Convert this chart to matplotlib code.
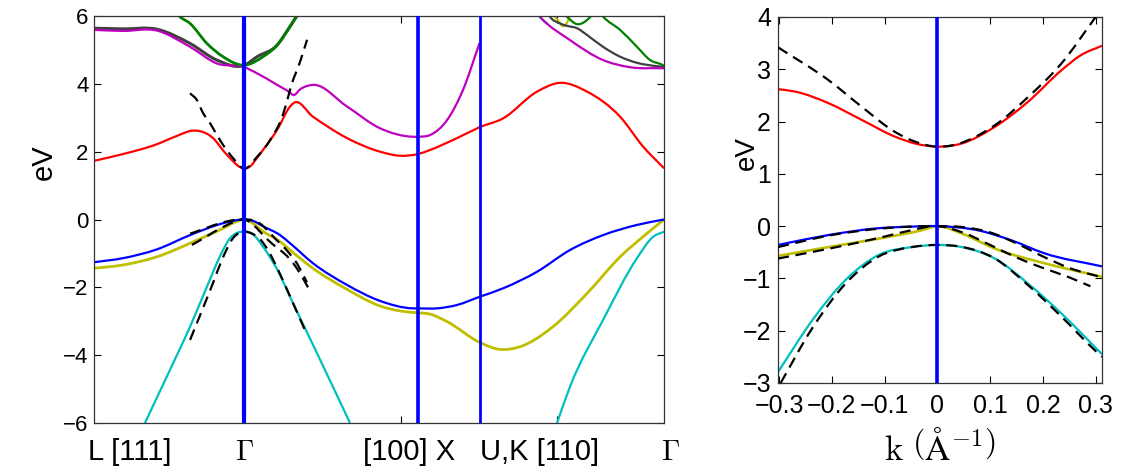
import numpy as np
import matplotlib
matplotlib.use('Agg')
import matplotlib.pyplot as plt
from matplotlib import transforms
from matplotlib.path import Path
from matplotlib.patches import PathPatch

plt.rcParams['font.family'] = ['Liberation Sans', 'DejaVu Sans']
plt.rcParams['mathtext.fontset'] = 'cm'

# colores tipo MATLAB
c_red = (1, 0, 0)
c_mag = (0.75, 0, 0.75)
c_grn = (0, 0.5, 0)
c_gry = (0.25, 0.25, 0.25)
c_blu = (0, 0, 1)
c_oli = (0.75, 0.75, 0)
c_cya = (0, 0.75, 0.75)

# puntos de simetria (k en 1/A)
k_path = [0.037, 1.0, 2.112, 2.505, 3.686]
path_labels = ['L [111]', r'$\Gamma$', '[100] X', 'U,K [110]', r'$\Gamma$']
label_pos = [0.267, 1.0, 2.054, 2.892, 3.725]

# ---- bandas completas (camino L-G-X-U,K-G) ----
red_k = [0.037, 0.223, 0.440, 0.56, 0.671, 0.72, 0.799, 0.870, 0.927, 0.96, 1.0, 1.04,
         1.081, 1.119, 1.209, 1.292, 1.317, 1.439, 1.657, 1.868, 1.996, 2.111, 2.188,
         2.361, 2.505, 2.655, 2.873, 3.020, 3.193, 3.405, 3.552, 3.686]
red_E = [1.73, 1.93, 2.22, 2.45, 2.62, 2.60, 2.40, 2.00, 1.72, 1.58, 1.50, 1.58,
         1.82, 2.05, 2.64, 3.33, 3.44, 3.03, 2.40, 2.00, 1.88, 1.93, 2.05,
         2.40, 2.72, 2.98, 3.77, 4.03, 3.77, 3.03, 2.15, 1.51]

mag1_k = [0.037, 0.223, 0.440, 0.652, 0.824, 1.0, 1.081, 1.209, 1.292, 1.311, 1.36,
          1.439, 1.657, 1.868, 2.079, 2.111, 2.188, 2.297, 2.399, 2.505]
mag1_E = [5.59, 5.56, 5.57, 5.09, 4.60, 4.49, 4.31, 3.97, 3.74, 3.67, 3.85,
          3.97, 3.33, 2.69, 2.44, 2.44, 2.49, 2.93, 3.82, 5.20]
mag2_k = [2.87, 2.892, 3.084, 3.296, 3.469, 3.686]
mag2_E = [6.10, 5.98, 5.29, 4.70, 4.49, 4.46]

gry1_k = [0.037, 0.223, 0.440, 0.652, 0.824, 1.0, 1.081, 1.209, 1.292, 1.337, 1.36]
gry1_E = [5.64, 5.62, 5.61, 5.19, 4.70, 4.55, 4.80, 5.14, 5.69, 6.00, 6.10]
gry2_k = [2.94, 2.956, 3.020, 3.065, 3.129, 3.193, 3.296, 3.405, 3.513, 3.641, 3.686]
gry2_E = [6.10, 5.98, 5.78, 5.71, 5.64, 5.44, 5.09, 4.80, 4.62, 4.52, 4.50]

grn1_k = [0.56, 0.581, 0.652, 0.760, 0.863, 1.0, 1.119, 1.209, 1.292, 1.337, 1.36]
grn1_E = [6.10, 6.00, 5.78, 5.19, 4.80, 4.55, 4.80, 5.14, 5.69, 6.00, 6.10]
grn2_k = [3.04, 3.065, 3.129, 3.212, 3.257, 3.296, 3.405, 3.513, 3.597, 3.679, 3.686]
grn2_E = [6.10, 5.98, 5.76, 5.96, 6.20, 5.98, 5.59, 5.09, 4.70, 4.55, 4.53]

oli_up_k = [2.97, 3.01, 3.039, 3.07, 3.09]
oli_up_E = [6.10, 5.85, 5.70, 5.85, 6.10]
cya_up_k = [2.86, 2.88, 2.91, 2.94]
cya_up_E = [6.10, 6.02, 5.88, 5.76]

blu_k = [0.037, 0.223, 0.440, 0.652, 0.863, 0.95, 1.0, 1.06, 1.119, 1.228, 1.292, 1.439,
         1.657, 1.868, 2.079, 2.111, 2.233, 2.361, 2.505, 2.655, 2.873, 3.084, 3.296,
         3.513, 3.686]
blu_E = [-1.26, -1.14, -0.88, -0.46, -0.11, -0.02, 0.0, -0.05, -0.20, -0.46, -0.70, -1.29,
         -1.93, -2.40, -2.62, -2.62, -2.62, -2.52, -2.28, -2.03, -1.54, -0.90, -0.46,
         -0.16, 0.0]

oli_k = [0.037, 0.223, 0.440, 0.652, 0.863, 0.95, 1.0, 1.05, 1.119, 1.228, 1.292, 1.439,
         1.657, 1.868, 2.079, 2.111, 2.188, 2.297, 2.505, 2.636, 2.764, 2.975, 3.193,
         3.405, 3.577, 3.686]
oli_E = [-1.44, -1.34, -1.10, -0.70, -0.26, -0.06, 0.0, -0.10, -0.35, -0.65, -0.90, -1.44,
         -2.06, -2.55, -2.74, -2.75, -2.79, -3.01, -3.62, -3.83, -3.75, -3.16, -2.18,
         -1.10, -0.41, 0.0]

cya1_k = [0.363, 0.543, 0.652, 0.760, 0.863, 0.908, 0.95, 1.0, 1.05, 1.119, 1.228,
          1.292, 1.452, 1.676]
cya1_E = [-6.0, -4.24, -3.16, -1.98, -0.90, -0.55, -0.40, -0.36, -0.42, -0.80, -1.64,
          -2.28, -3.82, -6.0]
cya2_k = [3.001, 3.084, 3.296, 3.513, 3.616, 3.686]
cya2_E = [-6.0, -4.93, -2.96, -1.14, -0.51, -0.36]

# ---- ajuste k.p cerca de Gamma (lineas punteadas) ----
cb_kp_k = [0.652, 0.696, 0.735, 0.780, 0.824, 0.863, 0.927, 1.0, 1.081, 1.164, 1.247,
           1.273, 1.30, 1.356, 1.401]
cb_kp_E = [3.72, 3.52, 3.14, 2.84, 2.49, 2.20, 1.81, 1.50, 1.85, 2.34, 3.10,
           3.50, 3.95, 4.65, 5.30]
hh_kp_k = [0.652, 0.75, 0.85, 0.93, 1.0, 1.05, 1.10, 1.15, 1.20, 1.25, 1.273, 1.337, 1.40]
hh_kp_E = [-0.42, -0.26, -0.10, -0.02, 0.0, -0.02, -0.12, -0.33, -0.58, -0.80, -0.92,
           -1.30, -1.85]
lh_kp_k = [0.664, 0.75, 0.85, 0.93, 1.0, 1.05, 1.10, 1.15, 1.20, 1.25, 1.273, 1.337, 1.407]
lh_kp_E = [-0.75, -0.52, -0.25, -0.08, 0.0, -0.13, -0.36, -0.60, -0.80, -0.98, -1.08,
           -1.45, -2.0]
so_kp_k = [0.652, 0.696, 0.748, 0.799, 0.856, 0.927, 1.0, 1.05, 1.10, 1.15, 1.196,
           1.247, 1.30, 1.343, 1.401]
so_kp_E = [-3.55, -3.05, -2.46, -1.87, -1.19, -0.55, -0.36, -0.42, -0.58, -0.90, -1.30,
           -1.80, -2.35, -2.80, -3.40]

# ---- ampliacion alrededor de Gamma ----
zr_k = [-0.302, -0.268, -0.206, -0.143, -0.080, -0.042, 0.0, 0.046, 0.109, 0.172, 0.235,
        0.272, 0.312]
zr_E = [2.62, 2.57, 2.35, 2.03, 1.71, 1.58, 1.52, 1.58, 1.90, 2.38, 2.98, 3.27, 3.45]
zb_k = [-0.302, -0.206, -0.112, -0.05, 0.0, 0.077, 0.140, 0.203, 0.312]
zb_E = [-0.36, -0.17, -0.04, -0.01, 0.0, -0.08, -0.27, -0.52, -0.77]
zo_k = [-0.302, -0.206, -0.112, -0.03, 0.0, 0.046, 0.109, 0.203, 0.312]
zo_E = [-0.57, -0.40, -0.24, -0.08, 0.0, -0.14, -0.43, -0.71, -0.97]
zc_k = [-0.302, -0.237, -0.174, -0.111, -0.048, 0.0, 0.046, 0.109, 0.172, 0.235, 0.312]
zc_E = [-2.79, -1.80, -1.03, -0.55, -0.40, -0.36, -0.40, -0.62, -1.10, -1.67, -2.45]

zr_kp_k = [-0.302, -0.206, -0.143, -0.08, 0.0, 0.109, 0.172, 0.235, 0.300]
zr_kp_E = [3.42, 2.79, 2.28, 1.80, 1.52, 1.93, 2.47, 3.11, 4.00]
zhh_kp_k = [-0.302, -0.2, -0.1, 0.0, 0.05, 0.1, 0.15, 0.2, 0.25, 0.312]
zhh_kp_E = [-0.40, -0.17, -0.04, 0.0, -0.02, -0.12, -0.33, -0.58, -0.80, -0.98]
zlh_kp_k = [-0.302, -0.2, -0.1, -0.05, 0.0, 0.05, 0.1, 0.15, 0.2, 0.25, 0.29]
zlh_kp_E = [-0.62, -0.42, -0.20, -0.08, 0.0, -0.13, -0.36, -0.60, -0.80, -0.98, -1.15]
zso_kp_k = [-0.297, -0.237, -0.174, -0.111, -0.048, 0.0, 0.048, 0.109, 0.172, 0.235,
            0.298, 0.312]
zso_kp_E = [-3.0, -1.95, -1.10, -0.58, -0.40, -0.36, -0.40, -0.62, -1.13, -1.73,
            -2.37, -2.50]

lw = 1.6
dsh = (5, 3)


def curva(ax, xs, ys, color, lw=lw, dashed=False, z=2):
    # trazo suave entre los puntos: cubicas de Bezier (Hermite, pendiente local)
    x = np.asarray(xs, float)
    y = np.asarray(ys, float)
    h = np.diff(x)
    d = np.diff(y) / h
    m = np.empty_like(y)
    m[0], m[-1] = d[0], d[-1]
    m[1:-1] = (h[:-1] * d[1:] + h[1:] * d[:-1]) / (h[:-1] + h[1:])
    verts = [(x[0], y[0])]
    codes = [Path.MOVETO]
    for i in range(len(h)):
        verts += [(x[i] + h[i] / 3, y[i] + m[i] * h[i] / 3),
                  (x[i + 1] - h[i] / 3, y[i + 1] - m[i + 1] * h[i] / 3),
                  (x[i + 1], y[i + 1])]
        codes += [Path.CURVE4] * 3
    p = PathPatch(Path(verts, codes), fill=False, edgecolor=color, lw=lw, zorder=z,
                  capstyle='butt', joinstyle='round')
    if dashed:
        p.set_linestyle((0, dsh))
    ax.add_patch(p)


fig = plt.figure(figsize=(11.23, 4.72), dpi=100)
ax1 = fig.add_axes([0.0837, 0.1038, 0.5076, 0.8623])
ax2 = fig.add_axes([0.6928, 0.1886, 0.2885, 0.7754])

# panel izquierdo: estructura de bandas
curva(ax1, cya_up_k, cya_up_E, c_cya)
curva(ax1, oli_up_k, oli_up_E, c_oli)
curva(ax1, gry1_k, gry1_E, c_gry, lw=lw + 0.6)
curva(ax1, gry2_k, gry2_E, c_gry)
curva(ax1, mag1_k, mag1_E, c_mag)
curva(ax1, mag2_k, mag2_E, c_mag)
curva(ax1, grn1_k, grn1_E, c_grn, lw=lw + 0.4)
curva(ax1, grn2_k, grn2_E, c_grn)
curva(ax1, red_k, red_E, c_red)
curva(ax1, cya1_k, cya1_E, c_cya)
curva(ax1, cya2_k, cya2_E, c_cya)
curva(ax1, oli_k, oli_E, c_oli, lw=lw + 0.4)
curva(ax1, blu_k, blu_E, c_blu)
for kk, ee in [(cb_kp_k, cb_kp_E), (hh_kp_k, hh_kp_E), (lh_kp_k, lh_kp_E), (so_kp_k, so_kp_E)]:
    curva(ax1, kk, ee, 'k', dashed=True, z=3)

ax1.axvline(k_path[1], color=c_blu, lw=3.0, zorder=5)
ax1.axvline(k_path[2], color=c_blu, lw=2.6, zorder=5)
ax1.axvline(k_path[3], color=c_blu, lw=2.0, zorder=5)

ax1.set_xlim(k_path[0], k_path[-1])
ax1.set_ylim(-6, 6)
ax1.set_yticks(np.arange(-6, 7, 2))
ax1.set_xticks([1, 2, 3])
ax1.set_xticklabels([])
ax1.tick_params(direction='in', top=True, right=True, length=5, width=0.8,
                labelsize=16, pad=4, colors='k')
trans = transforms.blended_transform_factory(ax1.transData, ax1.transAxes)
for xp, lab in zip(label_pos, path_labels):
    ax1.text(xp, -0.072, lab, transform=trans, ha='center', va='center',
             fontsize=21, clip_on=False)
ax1.text(-0.089, 0.641, 'eV', transform=ax1.transAxes, rotation=90,
         ha='center', va='center', fontsize=21)

# panel derecho: zoom en Gamma
curva(ax2, zr_k, zr_E, c_red)
curva(ax2, zc_k, zc_E, c_cya)
curva(ax2, zo_k, zo_E, c_oli, lw=lw + 0.3)
curva(ax2, zb_k, zb_E, c_blu)
for kk, ee in [(zr_kp_k, zr_kp_E), (zhh_kp_k, zhh_kp_E), (zlh_kp_k, zlh_kp_E),
               (zso_kp_k, zso_kp_E)]:
    curva(ax2, kk, ee, 'k', dashed=True, z=3)
ax2.axvline(0, color=c_blu, lw=2.6, zorder=5)

ax2.set_xlim(-0.302, 0.312)
ax2.set_ylim(-3, 4)
ax2.set_xticks(np.round(np.arange(-0.3, 0.31, 0.1), 1))
ax2.set_xticklabels(['\u22120.3', '\u22120.2', '\u22120.1', '0', '0.1', '0.2', '0.3'])
ax2.set_yticks(np.arange(-3, 5, 1))
ax2.tick_params(direction='in', top=True, right=True, length=5, width=0.8,
                labelsize=18, colors='k')
ax2.tick_params(axis='x', pad=8)
ax2.tick_params(axis='y', pad=5)
ax2.text(0.5, -0.18, r'$\mathrm{k}\ \left(\mathrm{\AA}^{-1}\right)$', transform=ax2.transAxes,
         ha='center', va='center', fontsize=25)
ax2.text(-0.095, 0.628, 'eV', transform=ax2.transAxes, rotation=90,
         ha='center', va='center', fontsize=20)

for a in (ax1, ax2):
    for s in a.spines.values():
        s.set_color('#333333')
        s.set_linewidth(0.9)

fig.savefig('out.png', dpi=100)
